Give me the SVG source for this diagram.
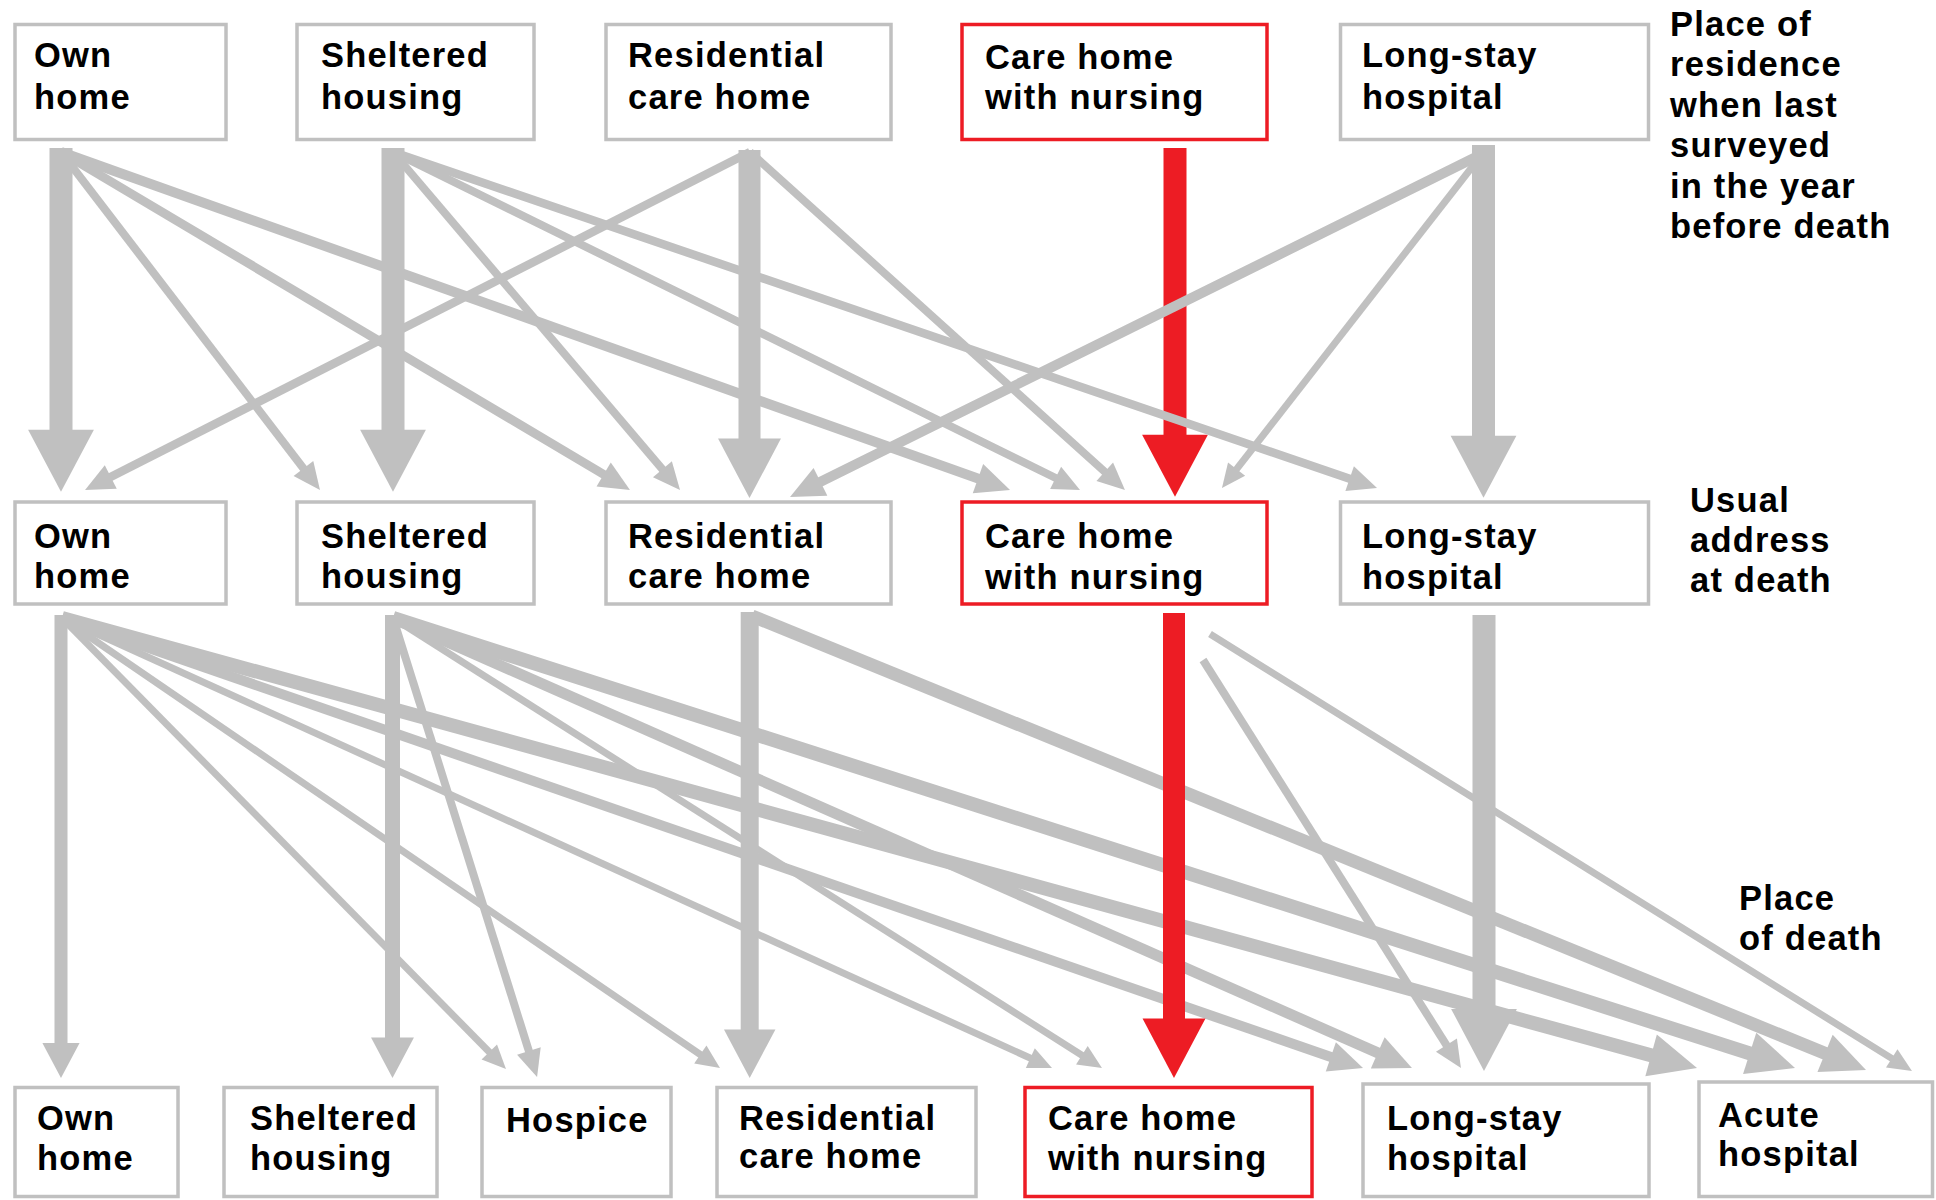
<svg xmlns="http://www.w3.org/2000/svg" width="1936" height="1200" viewBox="0 0 1936 1200">
  <style>
    .box { fill: #ffffff; stroke: #c0c0c0; stroke-width: 3.5; }
    .box.hl { stroke: #ed1c24; }
    .t { font-family: "Liberation Sans", Arial, sans-serif; font-weight: bold; font-size: 34.5px; letter-spacing: 1.2px; fill: #000000; }
    .ln { fill: none; stroke: #c0c0c0; stroke-linecap: butt; marker-end: url(#hd); }
    .vt { fill: none; stroke: #c0c0c0; stroke-linecap: butt; marker-end: url(#blk); }
    .vr { fill: none; stroke: #ed1c24; stroke-linecap: butt; marker-end: url(#blkR); }
  </style>
  <defs>
    <!-- arrowheads scale with the stroke width of the flow line -->
    <marker id="hd" markerUnits="strokeWidth" markerWidth="4" markerHeight="4" refX="1" refY="1.55" orient="auto" overflow="visible">
      <path d="M0,0 L3.4,1.55 L0,3.1 Z" fill="#c0c0c0"/>
    </marker>
    <marker id="blk" markerUnits="strokeWidth" markerWidth="3" markerHeight="3" refX="0.1" refY="1.43" orient="auto" overflow="visible">
      <path d="M0,0 L2.7,1.43 L0,2.86 Z" fill="#c0c0c0"/>
    </marker>
    <marker id="blkR" markerUnits="strokeWidth" markerWidth="3" markerHeight="3" refX="0.1" refY="1.43" orient="auto" overflow="visible">
      <path d="M0,0 L2.7,1.43 L0,2.86 Z" fill="#ed1c24"/>
    </marker>
  </defs>

  <rect width="1936" height="1200" fill="#ffffff"/>

  <!-- flows between places -->
  <g id="connectors">
    <!-- residence a year before death -> usual address at death -->
    <path class="vr" d="M1175,148 V437" stroke-width="23"/>
    <path class="ln" d="M61,152 L308.3,474.8" stroke-width="8"/>
    <path class="ln" d="M61,152 L611.4,479" stroke-width="9"/>
    <path class="ln" d="M61,152 L987.4,481.9" stroke-width="10"/>
    <path class="ln" d="M393,152 L667.6,475.4" stroke-width="8"/>
    <path class="ln" d="M393,152 L1062.8,481.5" stroke-width="8"/>
    <path class="ln" d="M393,152 L1357.7,481.4" stroke-width="8.5"/>
    <path class="ln" d="M750,152 L103.2,480.8" stroke-width="8.5"/>
    <path class="ln" d="M750,152 L1110.7,477.1" stroke-width="8"/>
    <path class="ln" d="M1478,156 L811.5,486.3" stroke-width="10"/>
    <path class="ln" d="M1476,162 L1232.3,474.7" stroke-width="7"/>
    <path class="vt" d="M61,148 V432" stroke-width="23"/>
    <path class="vt" d="M393,148 V432" stroke-width="23"/>
    <path class="vt" d="M749.5,150 V440.8" stroke-width="22"/>
    <path class="vt" d="M1483.5,145 V438" stroke-width="23"/>

    <!-- usual address at death -> place of death -->
    <path class="ln" d="M62,618 L494.2,1057" stroke-width="7"/>
    <path class="ln" d="M62,618 L706.1,1058.5" stroke-width="7"/>
    <path class="ln" d="M62,618 L1036.7,1061" stroke-width="7"/>
    <path class="ln" d="M62,618 L1340.3,1060.2" stroke-width="10"/>
    <path class="ln" d="M62,618 L1664.6,1059.1" stroke-width="14"/>
    <path class="ln" d="M393,618 L531.3,1058.7" stroke-width="8"/>
    <path class="ln" d="M393,618 L1087.8,1059" stroke-width="7"/>
    <path class="ln" d="M393,618 L1387.8,1057.3" stroke-width="11"/>
    <path class="ln" d="M393,618 L1763,1057.7" stroke-width="14"/>
    <path class="ln" d="M752,616 L1837.1,1058.2" stroke-width="13"/>
    <path class="ln" d="M1210,634 L1897.7,1062.1" stroke-width="7"/>
    <path class="ln" d="M1203,660 L1450.7,1051.8" stroke-width="8"/>
    <path class="vt" d="M61,615 V1044.2" stroke-width="13"/>
    <path class="vt" d="M392.5,615 V1039" stroke-width="15"/>
    <path class="vt" d="M749.7,612 V1031.2" stroke-width="18"/>
    <path class="vt" d="M1484,615 V1011.2" stroke-width="23"/>
    <path class="vr" d="M1174,613 V1020.8" stroke-width="22"/>
  </g>

  <!-- place of residence when last surveyed -->
  <g id="res-own">
    <rect class="box" x="15" y="24.5" width="211" height="115"/>
    <text class="t" x="34" y="67">Own</text>
    <text class="t" x="34" y="109">home</text>
  </g>
  <g id="res-sheltered">
    <rect class="box" x="297" y="24.5" width="237" height="115"/>
    <text class="t" x="321" y="67">Sheltered</text>
    <text class="t" x="321" y="109">housing</text>
  </g>
  <g id="res-residential">
    <rect class="box" x="606" y="24.5" width="285" height="115"/>
    <text class="t" x="628" y="67">Residential</text>
    <text class="t" x="628" y="109">care home</text>
  </g>
  <g id="res-nursing">
    <rect class="box hl" x="962" y="24.5" width="305" height="115"/>
    <text class="t" x="985" y="69">Care home</text>
    <text class="t" x="985" y="109">with nursing</text>
  </g>
  <g id="res-longstay">
    <rect class="box" x="1340.5" y="24.5" width="308" height="115"/>
    <text class="t" x="1362" y="67">Long-stay</text>
    <text class="t" x="1362" y="109">hospital</text>
  </g>
  <g id="label-residence">
    <text class="t" x="1670" y="36">Place of</text>
    <text class="t" x="1670" y="76.4">residence</text>
    <text class="t" x="1670" y="116.8">when last</text>
    <text class="t" x="1670" y="157.2">surveyed</text>
    <text class="t" x="1670" y="197.6">in the year</text>
    <text class="t" x="1670" y="238">before death</text>
  </g>

  <!-- usual address at death -->
  <g id="usual-own">
    <rect class="box" x="15" y="502" width="211" height="102"/>
    <text class="t" x="34" y="548">Own</text>
    <text class="t" x="34" y="588">home</text>
  </g>
  <g id="usual-sheltered">
    <rect class="box" x="297" y="502" width="237" height="102"/>
    <text class="t" x="321" y="548">Sheltered</text>
    <text class="t" x="321" y="588">housing</text>
  </g>
  <g id="usual-residential">
    <rect class="box" x="606" y="502" width="285" height="102"/>
    <text class="t" x="628" y="548">Residential</text>
    <text class="t" x="628" y="588">care home</text>
  </g>
  <g id="usual-nursing">
    <rect class="box hl" x="962" y="502" width="305" height="102"/>
    <text class="t" x="985" y="548">Care home</text>
    <text class="t" x="985" y="589">with nursing</text>
  </g>
  <g id="usual-longstay">
    <rect class="box" x="1340.5" y="502" width="308" height="102"/>
    <text class="t" x="1362" y="548">Long-stay</text>
    <text class="t" x="1362" y="589">hospital</text>
  </g>
  <g id="label-usual">
    <text class="t" x="1690" y="512">Usual</text>
    <text class="t" x="1690" y="552">address</text>
    <text class="t" x="1690" y="592">at death</text>
  </g>

  <!-- place of death -->
  <g id="death-own">
    <rect class="box" x="15" y="1087.5" width="163" height="109"/>
    <text class="t" x="37" y="1130">Own</text>
    <text class="t" x="37" y="1170">home</text>
  </g>
  <g id="death-sheltered">
    <rect class="box" x="224" y="1087.5" width="213" height="109"/>
    <text class="t" x="250" y="1130">Sheltered</text>
    <text class="t" x="250" y="1170">housing</text>
  </g>
  <g id="death-hospice">
    <rect class="box" x="482" y="1087.5" width="189" height="109"/>
    <text class="t" x="506" y="1132">Hospice</text>
  </g>
  <g id="death-residential">
    <rect class="box" x="717" y="1087.5" width="259" height="109"/>
    <text class="t" x="739" y="1130">Residential</text>
    <text class="t" x="739" y="1168">care home</text>
  </g>
  <g id="death-nursing">
    <rect class="box hl" x="1025" y="1087.5" width="287" height="109"/>
    <text class="t" x="1048" y="1130">Care home</text>
    <text class="t" x="1048" y="1170">with nursing</text>
  </g>
  <g id="death-longstay">
    <rect class="box" x="1363" y="1084" width="286" height="112.5"/>
    <text class="t" x="1387" y="1130">Long-stay</text>
    <text class="t" x="1387" y="1170">hospital</text>
  </g>
  <g id="death-acute">
    <rect class="box" x="1699" y="1082" width="233.5" height="114.5"/>
    <text class="t" x="1718" y="1127">Acute</text>
    <text class="t" x="1718" y="1166">hospital</text>
  </g>
  <g id="label-death">
    <text class="t" x="1739" y="910">Place</text>
    <text class="t" x="1739" y="950">of death</text>
  </g>
</svg>
